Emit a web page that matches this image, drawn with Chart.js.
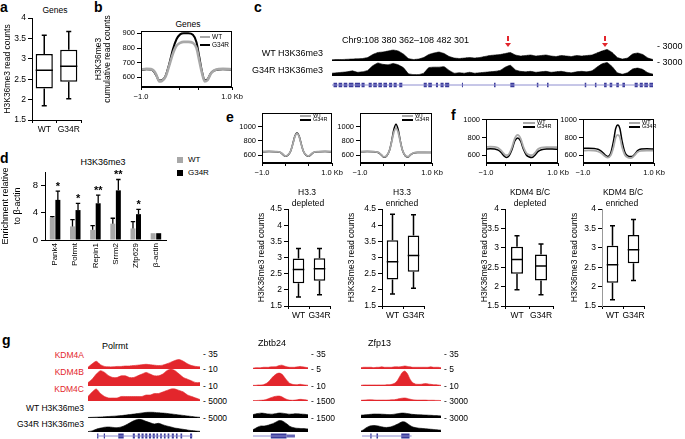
<!DOCTYPE html>
<html>
<head>
<meta charset="utf-8">
<script src="https://cdn.jsdelivr.net/npm/chart.js@4.4.1/dist/chart.umd.min.js"></script>
<style>
html, body { margin: 0; padding: 0; background: #fff; }
#fig { position: relative; width: 685px; height: 439px; overflow: hidden; font-family: 'Liberation Sans', Arial, sans-serif; }
#fig canvas { position: absolute; }
.t { position: absolute; white-space: nowrap; line-height: 1; }
.s { position: absolute; }
</style>
</head>
<body>
<div id="fig"></div>
<script>
// ---- a: five-number summaries [min, Q1, median, Q3, max]
var groups = ['WT', 'G34R'];
var aWT = [1.85, 2.27, 2.72, 3.12, 3.58];
var aG34R = [2.02, 2.44, 2.82, 3.22, 3.67];
var aTicks = [1.5, 2, 2.5, 3, 3.5, 4];

// ---- b: metagene profile (x: 0 = -1.0 kb, 100 = +1.0 kb)
var bX = [0, 6, 11, 14, 17, 20, 23, 27, 31, 35, 39, 43, 47, 52, 57, 61, 64, 67, 70, 73, 77, 82, 90, 100];
var bWT = [652, 658, 656, 645, 615, 572, 575, 605, 680, 760, 815, 835, 842, 842, 835, 800, 715, 630, 572, 580, 628, 652, 658, 655];
var bG34R = [650, 655, 653, 640, 610, 578, 580, 610, 690, 790, 860, 893, 900, 900, 890, 840, 740, 640, 578, 585, 630, 650, 655, 652];
var bTicks = [600, 700, 800, 900];
var bXTicks = [0, 42, 63, 100];
var profLabels = ['\u22121.0', '', '', '1.0 Kb'];

// ---- c: browser tracks
var cScale = [3000, 3000];
var cWT = [250,300,300,350,400,450,500,700,1300,1700,1800,2000,2200,2000,1400,500,300,400,700,1300,1600,1800,1500,900,600,500,600,700,600,700,900,1100,1200,1300,1500,1700,1200,1000,1100,1200,1000,1100,1200,1000,900,1100,1000,900,1100,1000,1100,1200,1600,2000,2300,1700,700,400,600,1400,1600,1300,600,300];
var cG34R = [600,700,800,900,1100,800,900,1200,2200,2800,2500,2400,2700,2400,1800,500,300,300,600,1800,1900,1900,2000,1200,600,700,600,800,600,700,800,900,1000,1200,1900,2300,1300,1000,900,1000,800,900,1000,800,900,1000,800,700,900,1000,900,1100,1900,2600,2900,2000,700,400,700,1500,1700,1400,700,400];
var cArrows = [34.5, 53.6];
var cGeneSpan = [0, 63];
var cExons = [[0.3,1.0],[1.3,2.0],[2.3,3.0],[3.3,4.2],[4.5,5.5],[5.8,6.4],[7.2,7.8],[8.1,8.8],[9.1,9.8],[10.1,10.8],[11.2,11.8],[12.1,12.7],[13.2,13.8],
  [18.0,18.6],[18.9,19.6],[20.4,20.8],[21.3,21.9],[22.2,23.0],[25.5,25.7],[31.8,32.1],[35.0,35.8],[40.2,40.5],[42.2,42.5],[49.6,49.9],[51.6,51.9],
  [53.4,53.9],[54.5,55.0],[55.8,56.3],[57.0,57.5],[59.4,60.0],[60.4,61.0],[61.3,62.0],[62.3,63.0]];

// ---- d: ChIP-qPCR
var dGenes = ['Pank4', 'Polrmt', 'Repin1', 'Srrm2', 'Zfp629', '\u03b2-actin'];
var dWT = [3.3, 2.0, 1.5, 2.4, 1.7, 1.0];
var dWTerr = [3.45, 3.0, 2.1, 3.2, 2.7, 1.0];
var dG34R = [5.9, 4.4, 5.4, 7.3, 3.8, 1.0];
var dG34Rerr = [7.2, 5.4, 6.6, 8.9, 4.5, 1.0];
var dStars = ['*', '*', '**', '**', '*', ''];
var dTicks = [0, 2, 4, 6, 8, 10];

// ---- e / f: profiles
var efTicks = [600, 800, 1000];
var eX = [0, 10, 20, 26, 30, 33, 37, 41, 44, 47, 50, 53, 56, 59, 63, 67, 70, 74, 80, 90, 100];
var e1WT = [655, 655, 652, 642, 615, 590, 605, 662, 755, 860, 905, 860, 755, 662, 605, 590, 615, 642, 652, 655, 655];
var e1G34R = [650, 652, 650, 640, 610, 585, 600, 660, 760, 870, 915, 870, 760, 660, 600, 585, 610, 640, 650, 652, 650];
var e2WT = [652, 654, 650, 638, 605, 578, 595, 670, 790, 920, 980, 920, 790, 670, 595, 580, 608, 632, 642, 642, 640];
var e2G34R = [650, 652, 648, 635, 600, 572, 590, 670, 800, 960, 1035, 960, 800, 670, 590, 575, 605, 630, 640, 640, 638];
var f1X = [0, 6, 12, 17, 21, 25, 28, 32, 36, 40, 44, 48, 52, 56, 60, 64, 68, 72, 77, 84, 92, 100];
var f1WT = [690, 694, 692, 680, 652, 615, 598, 612, 685, 790, 830, 790, 690, 622, 602, 598, 625, 665, 684, 690, 690, 688];
var f1G34R = [668, 670, 668, 655, 628, 590, 572, 590, 660, 760, 795, 760, 665, 600, 578, 572, 598, 638, 660, 668, 668, 666];
var f2X = [0, 8, 15, 21, 26, 31, 35, 39, 43, 46, 49, 52, 55, 59, 63, 67, 70, 73, 77, 82, 90, 100];
var f2WT = [650, 652, 650, 640, 620, 585, 570, 595, 690, 800, 830, 800, 690, 600, 572, 566, 575, 600, 635, 648, 650, 650];
var f2G34R = [675, 678, 675, 665, 642, 602, 582, 620, 760, 900, 943, 900, 760, 630, 590, 582, 585, 610, 650, 668, 670, 668];
var e1XTicks = [0, 33, 66, 100], e2XTicks = [0, 32, 62, 100], f1XTicks = [0, 27, 62, 100], f2XTicks = [0, 37, 67, 100];

// ---- e / f: box plots [min, Q1, median, Q3, max]
var eDepWT = [1.78, 2.20, 2.63, 2.97, 3.28];
var eDepG34R = [1.85, 2.28, 2.65, 2.98, 3.28];
var eEnrWT = [1.87, 2.32, 2.87, 3.53, 4.34];
var eEnrG34R = [2.05, 2.56, 3.06, 3.68, 4.32];
var fDepWT = [1.92, 2.33, 2.70, 3.03, 3.31];
var fDepG34R = [1.79, 2.16, 2.53, 2.83, 3.10];
var fEnrWT = [1.66, 2.10, 2.56, 3.05, 3.57];
var fEnrG34R = [2.16, 2.60, 2.95, 3.33, 3.73];
var eBoxTicks = [1.5, 2, 2.5, 3, 3.5, 4, 4.5];
var fBoxTicks = [1.5, 2, 2.5, 3, 3.5, 4];

// ---- g: browser tracks
var gTrackNames = ['KDM4A', 'KDM4B', 'KDM4C', 'WT H3K36me3', 'G34R H3K36me3'];
var polrmtScale = [35, 10, 10, 5000, 5000];
var zbtb24Scale = [35, 5, 10, 1500, 1500];
var zfp13Scale = [35, 5, 10, 3000, 3000];
var polrmtA = [4,12,18,10,6,5,5,6,6,7,7,8,9,10,11,10,9,8,9,12,16,20,22,18,12,8,6,5];
var polrmtB = [2,4,7,9,8,6,5,5,6,6,5,5,6,7,8,7,6,6,7,9,10,9,7,5,4,3,2,2];
var polrmtC = [3,6,8,5,3,2,2,2,3,3,3,3,3,3,4,4,5,5,6,7,8,8,7,6,4,3,2,1];
var polrmtWT = [150,200,250,300,380,450,520,600,700,850,1000,1150,1300,1500,1650,1700,1650,1550,1450,1350,1200,1050,900,750,600,450,300,200];
var polrmtG34R = [150,400,1000,1400,1700,1800,1650,1550,1800,2400,3200,4000,4500,4400,3800,3300,2850,3100,2600,2150,1800,1400,1200,950,700,500,350,250];
var zbtb24A = [2,3,3,3,4,4,4,5,5,6,8,9,7,5,4,4,4,5,6,5,4,3];
var zbtb24B = [0.2,0.2,0.3,0.3,0.4,0.7,1.3,2.2,3.0,3.6,3.8,3.5,2.6,1.6,0.8,0.5,0.4,0.4,0.5,0.4,0.3,0.2];
var zbtb24C = [0.3,0.3,0.4,0.5,0.6,1.0,1.6,2.3,2.9,3.2,3.3,2.8,1.8,1.0,0.6,0.5,0.6,0.9,1.1,1.0,0.8,0.4];
var zbtb24WT = [300,360,400,430,420,380,360,340,360,400,440,430,400,360,340,350,380,370,350,340,320,280];
var zbtb24G34R = [250,400,550,650,640,680,750,850,950,1100,1230,1200,1050,850,620,500,430,400,380,370,360,330];
var zfp13A = [3,4,4,4,4,3,4,4,5,4,4,4,4,5,5,5,6,7,6,5,4,4,4,4,4,4,4,5,4,4,4,3];
var zfp13B = [0.2,0.3,0.3,0.3,0.3,0.3,0.3,0.3,0.3,0.3,0.4,0.4,0.5,0.8,1.5,2.8,4.0,4.4,3.6,2.0,1.0,0.6,0.5,0.5,0.6,0.7,0.6,0.5,0.4,0.4,0.3,0.2];
var zfp13C = [0.5,0.6,0.7,0.8,0.8,0.7,0.6,0.6,0.6,0.6,0.6,0.7,0.8,0.9,1.2,1.6,1.9,2.0,1.7,1.2,0.9,0.7,0.6,0.6,0.6,0.6,0.5,0.5,0.5,0.4,0.4,0.3];
var zfp13WT = [500,540,580,620,660,700,700,690,680,650,620,600,620,680,750,820,870,850,780,700,640,600,580,560,540,520,500,480,450,420,400,360];
var zfp13G34R = [200,500,900,1200,1350,1400,1350,1250,1100,1000,980,1050,1200,1400,1650,1950,2200,2150,1800,1400,1100,950,850,800,750,700,650,600,550,500,450,400];
var polrmtSpan = [2.2, 25.2];
var polrmtExons = [[2.2,2.5],[3.8,4.1],[7.3,8.6],[10.8,11.3],[12.0,12.5],[12.9,13.4],[13.8,14.3],[14.7,15.2],[15.6,16.1],[16.5,16.9],[17.4,17.8],[18.3,18.7],[19.2,19.6],[20.2,20.7],[21.2,21.6],[22.3,22.7],[24.6,25.1]];
var zbtb24Span = [0, 16];
var zbtb24Exons = [[6.8, 12.8]];
var zbtb24Utr = [[12.8, 16]];
var zfp13Span = [0.4, 19.6];
var zfp13Exons = [[0.4,0.7],[3.6,4.1],[6.0,6.6],[15.6,18.8]];

var RED = '#e3262c', GRAY = '#a8a8a8';
Chart.defaults.font.family = "'Liberation Sans', Arial, sans-serif";
Chart.defaults.color = '#000';
Chart.defaults.animation = false;
Chart.defaults.responsive = false;
Chart.defaults.plugins.legend.display = false;
Chart.defaults.plugins.tooltip.enabled = false;
Chart.defaults.elements.point.radius = 0;

var fig = document.getElementById('fig');

// canvas placed so that the chart area lands on area = [left, top, right, bottom]
function mk(area, yw, xh, pad, config) {
  var left = Math.floor(area[0] - yw - pad[0]), top = Math.floor(area[1] - pad[1]);
  var w = Math.ceil(area[2] + pad[2]) - left, h = Math.ceil(area[3] + xh + pad[3]) - top;
  var c = document.createElement('canvas');
  c.width = w; c.height = h;
  c.style.left = left + 'px'; c.style.top = top + 'px';
  c.style.width = w + 'px'; c.style.height = h + 'px';
  fig.appendChild(c);
  config.options = config.options || {};
  config.options.layout = { padding: { left: area[0] - yw - left, top: area[1] - top, right: w - (area[2] - left), bottom: h - (area[3] + xh - top) } };
  return new Chart(c, config);
}
function fitY(w) { return function (s) { s.width = w; s.paddingTop = 0; s.paddingBottom = 0; }; }
function fitX(h) { return function (s) { s.height = h; s.paddingLeft = 0; s.paddingRight = 0; }; }
function fixTicks(list) { return function (s) { s.ticks = list.map(function (v) { return { value: v }; }); }; }
function plain(v) { return String(v); }

function T(s, x, y, o) {
  o = o || {};
  var d = document.createElement('div');
  d.className = 't';
  d.textContent = s;
  d.style.left = x + 'px'; d.style.top = y + 'px';
  d.style.fontSize = (o.size || 9) + 'px';
  if (o.color) d.style.color = o.color;
  if (o.bold) d.style.fontWeight = 'bold';
  var tx = o.align === 'l' ? '0' : (o.align === 'r' ? '-100%' : '-50%');
  d.style.transform = 'translate(' + tx + ',-50%)';
  fig.appendChild(d);
}
function S(x, y, w, h, color) {
  var d = document.createElement('div');
  d.className = 's';
  d.style.cssText = 'left:' + x + 'px;top:' + (y - h / 2) + 'px;width:' + w + 'px;height:' + h + 'px;background:' + color;
  fig.appendChild(d);
  return d;
}

var frame = { id: 'frame', afterDraw: function (c) {
  var a = c.chartArea, ctx = c.ctx;
  ctx.save(); ctx.strokeStyle = '#000'; ctx.lineWidth = 1;
  ctx.strokeRect(Math.round(a.left) + 0.5, Math.round(a.top) + 0.5, Math.round(a.right - a.left) - 1, Math.round(a.bottom - a.top) - 1);
  ctx.restore();
} };

function whiskerPlugin(stats) {
  return { id: 'whisk', afterDatasetsDraw: function (chart) {
    var ctx = chart.ctx, y = chart.scales.y;
    chart.getDatasetMeta(0).data.forEach(function (bar, i) {
      var s = stats[i], x = bar.x, hw = bar.width / 2;
      ctx.save(); ctx.strokeStyle = '#000'; ctx.lineWidth = 1.5; ctx.beginPath();
      var pm = y.getPixelForValue(s[2]);
      ctx.moveTo(x - hw, pm); ctx.lineTo(x + hw, pm);
      [[s[3], s[4]], [s[1], s[0]]].forEach(function (p) {
        var a = y.getPixelForValue(p[0]), b = y.getPixelForValue(p[1]);
        ctx.moveTo(x, a); ctx.lineTo(x, b);
        ctx.moveTo(x - 2.5, b); ctx.lineTo(x + 2.5, b);
      });
      ctx.stroke(); ctx.restore();
    });
  } };
}

function boxPlot(area, yw, max, yTicks, wt, g34r, frac, fs, axisColor, padTop) {
  var stats = [wt, g34r];
  return mk(area, yw, 18, [0, padTop || 7, 8, 0], {
    type: 'bar',
    data: { labels: groups, datasets: [{ data: stats.map(function (s) { return [s[1], s[3]]; }),
      backgroundColor: '#fff', borderColor: '#000', borderWidth: 1.5, borderSkipped: false, barPercentage: frac, categoryPercentage: 1 }] },
    options: { scales: {
      x: { ticks: { autoSkip: false, font: { size: fs }, padding: 2, maxRotation: 0, minRotation: 0 }, grid: { drawOnChartArea: false, tickLength: 3, color: '#000' }, border: { color: '#000' }, afterFit: fitX(18) },
      y: { min: 1.5, max: max, afterBuildTicks: fixTicks(yTicks), ticks: { font: { size: fs }, padding: 2, callback: plain },
        grid: { drawOnChartArea: false, tickLength: 4, color: '#000' }, border: { color: axisColor || '#000' },
        title: { display: true, text: 'H3K36me3 read counts', font: { size: fs, lineHeight: 1.2 }, padding: 0 }, afterFit: fitY(yw) }
    } },
    plugins: [whiskerPlugin(stats)]
  });
}

function profile(area, yw, min, max, yTicks, xs, wt, g34r, xTicks, fs, wtW, gW, yTitle, padTop) {
  var y = { min: min, max: max, afterBuildTicks: fixTicks(yTicks), ticks: { font: { size: fs }, padding: 2, callback: plain },
    grid: { drawOnChartArea: false, tickLength: 4, color: '#000' }, border: { color: '#000' }, afterFit: fitY(yw) };
  if (yTitle) y.title = { display: true, text: yTitle, font: { size: 8.5, lineHeight: 1.1 }, padding: 0 };
  return mk(area, yw, 16, [0, padTop || 6, 16, 2], {
    type: 'line',
    data: { datasets: [
      { data: xs.map(function (x, i) { return { x: x, y: wt[i] }; }), borderColor: GRAY, borderWidth: wtW, cubicInterpolationMode: 'monotone' },
      { data: xs.map(function (x, i) { return { x: x, y: g34r[i] }; }), borderColor: '#000', borderWidth: gW, cubicInterpolationMode: 'monotone' }
    ] },
    options: { scales: {
      x: { type: 'linear', min: 0, max: 100, afterBuildTicks: fixTicks(xTicks),
        ticks: { autoSkip: false, maxRotation: 0, font: { size: fs }, padding: 2, callback: function (v, i) { return profLabels[i]; } },
        grid: { drawOnChartArea: false, tickLength: 3, color: '#000' }, border: { color: '#000' }, afterFit: fitX(16) },
      y: y
    } },
    plugins: [frame]
  });
}

function track(area, vals, maxV, color, tension) {
  return mk(area, 0, 0, [0, 0, 0, 0], {
    type: 'line',
    data: { labels: vals.map(function (v, i) { return i; }), datasets: [{ data: vals, fill: 'origin', backgroundColor: color, borderColor: color, borderWidth: 0.6, tension: tension }] },
    options: { scales: { x: { display: false }, y: { display: false, min: 0, max: maxV } } }
  });
}

function gene(area, span, exons, utr, n, exW) {
  var ds = [{ data: [{ x: span[0], y: 0 }, { x: span[1], y: 0 }], borderColor: '#8e8ed0', borderWidth: 1 }];
  [[exons, exW], [utr, exW * 0.55]].forEach(function (p) {
    var pts = [];
    p[0].forEach(function (e) { pts.push({ x: e[0], y: 0 }, { x: e[1], y: 0 }, { x: e[1], y: null }); });
    ds.push({ data: pts, borderColor: '#3a3a9a', borderWidth: p[1], spanGaps: false, borderCapStyle: 'butt' });
  });
  return mk(area, 0, 0, [0, 0, 0, 0], { type: 'line', data: { datasets: ds },
    options: { scales: { x: { type: 'linear', display: false, min: 0, max: n }, y: { display: false, min: -1, max: 1 } } } });
}

function arrow(x, y) {
  S(x - 1, y - 2, 2, 5, RED);
  var tri = S(x - 3, y + 2.5, 0, 0, 'transparent');
  tri.style.borderLeft = '3px solid transparent';
  tri.style.borderRight = '3px solid transparent';
  tri.style.borderTop = '4px solid ' + RED;
}

// ===== panel letters
T('a', 0, 7, { align: 'l', size: 14, bold: true });
T('b', 94, 7, { align: 'l', size: 14, bold: true });
T('c', 254, 7, { align: 'l', size: 14, bold: true });
T('d', 0, 158, { align: 'l', size: 14, bold: true });
T('e', 226, 117, { align: 'l', size: 14, bold: true });
T('f', 451, 115, { align: 'l', size: 14, bold: true });
T('g', 2, 340, { align: 'l', size: 14, bold: true });

// ===== a
T('Genes', 55, 10, { size: 8.5 });
boxPlot([32, 18, 81, 120], 29, 4, aTicks, aWT, aG34R, 0.7, 8.5, '#000', 8);

// ===== b
T('Genes', 188, 24, { size: 8.5 });
profile([141, 31, 232, 87], 47, 534, 916, bTicks, bX, bWT, bG34R, bXTicks, 7.5, 2.6, 2, ['H3K36me3', 'cumulative read counts'], 30);
S(200, 37, 10, 2.5, GRAY); T('WT', 212, 37, { align: 'l', size: 6.5 });
S(200, 45, 10, 2, '#000'); T('G34R', 212, 45, { align: 'l', size: 6.5 });

// ===== c
T('Chr9:108 380 362\u2013108 482 301', 342, 39.5, { align: 'l', size: 9 });
cArrows.forEach(function (i) { arrow(332 + i * 321 / (cWT.length - 1), 40); });
T('WT H3K36me3', 323, 52.5, { align: 'r', size: 9 });
T('G34R H3K36me3', 323, 70, { align: 'r', size: 9 });
T('- ' + cScale[0], 657, 46, { align: 'l', size: 9 });
T('- ' + cScale[1], 657, 62, { align: 'l', size: 9 });
track([332, 46, 653, 61], cWT, cScale[0], '#000', 0.1);
track([332, 62, 653, 76], cG34R, cScale[1], '#000', 0.1);
gene([332, 82, 653, 88], cGeneSpan, cExons, [], cWT.length - 1, 4.5);

// ===== d
T('H3K36me3', 103, 162, { size: 9 });
S(177, 160, 6, 6, GRAY); T('WT', 188, 160, { align: 'l', size: 8 });
S(177, 173, 6, 6, '#000'); T('G34R', 188, 173, { align: 'l', size: 8 });
var dPlugin = { id: 'dErr', afterDatasetsDraw: function (chart) {
  var ctx = chart.ctx, y = chart.scales.y;
  ctx.save(); ctx.strokeStyle = '#000'; ctx.lineWidth = 1.3;
  [dWTerr, dG34Rerr].forEach(function (err, di) {
    var vals = chart.data.datasets[di].data;
    chart.getDatasetMeta(di).data.forEach(function (bar, i) {
      if (err[i] <= vals[i]) return;
      var top = y.getPixelForValue(err[i]);
      ctx.beginPath(); ctx.moveTo(bar.x, bar.y); ctx.lineTo(bar.x, top);
      ctx.moveTo(bar.x - 2.2, top); ctx.lineTo(bar.x + 2.2, top); ctx.stroke();
    });
  });
  ctx.fillStyle = '#000'; ctx.textAlign = 'center'; ctx.textBaseline = 'alphabetic';
  ctx.font = "bold 11px 'Liberation Sans', Arial, sans-serif";
  chart.getDatasetMeta(1).data.forEach(function (bar, i) {
    if (dStars[i]) ctx.fillText(dStars[i], bar.x, y.getPixelForValue(dG34Rerr[i]) - 1);
  });
  ctx.restore();
} };
mk([45, 172, 166, 240], 45, 30, [0, 7, 4, 0], {
  type: 'bar',
  data: { labels: dGenes, datasets: [
    { label: 'WT', data: dWT, backgroundColor: GRAY, categoryPercentage: 0.55, barPercentage: 0.9 },
    { label: 'G34R', data: dG34R, backgroundColor: '#000', categoryPercentage: 0.55, barPercentage: 0.9 }
  ] },
  options: { scales: {
    x: { ticks: { autoSkip: false, minRotation: 90, maxRotation: 90, font: { size: 8 }, padding: 3 },
      grid: { drawOnChartArea: false, drawTicks: false, color: '#000' }, border: { color: '#000' }, afterFit: fitX(30) },
    y: { min: 0, max: 10, afterBuildTicks: fixTicks(dTicks), ticks: { font: { size: 9.5 }, padding: 3 },
      grid: { drawOnChartArea: false, tickLength: 4, color: '#000' }, border: { color: '#000' },
      title: { display: true, text: ['Enrichment relative', 'to \u03b2-actin'], font: { size: 9, lineHeight: 1.3 }, padding: 0 }, afterFit: fitY(45) }
  } },
  plugins: [dPlugin]
});

// ===== e (profiles)
profile([262, 113, 332, 163], 28, 492, 1191, efTicks, eX, e1WT, e1G34R, e1XTicks, 7.5, 1.8, 1.5);
profile([360, 113, 432, 163], 26, 492, 1191, efTicks, eX, e2WT, e2G34R, e2XTicks, 7.5, 1.8, 1.5);
S(300, 116, 11, 2, GRAY); T('WT', 313, 116, { align: 'l', size: 5.5 });
S(300, 120, 11, 2, '#000'); T('G34R', 313, 120, { align: 'l', size: 5.5 });
S(402, 116, 11, 2, GRAY); T('WT', 415, 116, { align: 'l', size: 5.5 });
S(402, 120, 11, 2, '#000'); T('G34R', 415, 120, { align: 'l', size: 5.5 });

// ===== f (profiles)
profile([486, 119, 558, 163], 28, 509, 1010, efTicks, f1X, f1WT, f1G34R, f1XTicks, 7.5, 1.8, 1.5);
profile([583, 119, 654, 163], 25, 509, 1010, efTicks, f2X, f2WT, f2G34R, f2XTicks, 7.5, 1.8, 1.5);
S(523, 122.7, 12, 2, GRAY); T('WT', 537, 122.7, { align: 'l', size: 5.5 });
S(523, 126.7, 12, 2, '#000'); T('G34R', 537, 126.7, { align: 'l', size: 5.5 });
S(629, 122.7, 11, 2, GRAY); T('WT', 642, 122.7, { align: 'l', size: 5.5 });
S(629, 126.7, 11, 2, '#000'); T('G34R', 642, 126.7, { align: 'l', size: 5.5 });

// ===== e / f box plots
T('H3.3', 307, 192, { size: 8.5 }); T('depleted', 308, 202.5, { size: 8.5 });
T('H3.3', 402, 192, { size: 8.5 }); T('enriched', 402, 202.5, { size: 8.5 });
T('KDM4 B/C', 530, 192, { size: 8.5 }); T('depleted', 530, 202.5, { size: 8.5 });
T('KDM4 B/C', 623, 192, { size: 8.5 }); T('enriched', 622, 202.5, { size: 8.5 });
boxPlot([288, 209, 330, 306], 31, 4.5, eBoxTicks, eDepWT, eDepG34R, 0.55, 8.5);
boxPlot([382, 209, 424, 306], 35, 4.5, eBoxTicks, eEnrWT, eEnrG34R, 0.55, 8.5);
boxPlot([505, 209, 553, 306], 25, 4, fBoxTicks, fDepWT, fDepG34R, 0.5, 8.5);
boxPlot([602, 209, 644, 306], 32, 4, fBoxTicks, fEnrWT, fEnrG34R, 0.55, 8.5, '#999');

// ===== g
var rowTop = [354, 369, 386, 401, 418], rowBot = [369, 386, 401, 418, 432];
var labelY = [355, 372, 389, 408, 424];
gTrackNames.forEach(function (n, i) { T(n, 84, labelY[i], { align: 'r', size: 8.5, color: i < 3 ? RED : '#000' }); });
T('Polrmt', 102, 346, { align: 'l', size: 9 });
T('Zbtb24', 258, 343, { align: 'l', size: 9 });
T('Zfp13', 368, 343, { align: 'l', size: 9 });
var gCols = [
  { x0: 88, x1: 200, scale: polrmtScale, data: [polrmtA, polrmtB, polrmtC, polrmtWT, polrmtG34R], span: polrmtSpan, exons: polrmtExons, utr: [] },
  { x0: 253, x1: 308, scale: zbtb24Scale, data: [zbtb24A, zbtb24B, zbtb24C, zbtb24WT, zbtb24G34R], span: zbtb24Span, exons: zbtb24Exons, utr: zbtb24Utr },
  { x0: 361, x1: 441, scale: zfp13Scale, data: [zfp13A, zfp13B, zfp13C, zfp13WT, zfp13G34R], span: zfp13Span, exons: zfp13Exons, utr: [] }
];
gCols.forEach(function (col) {
  col.data.forEach(function (vals, r) {
    track([col.x0, rowTop[r], col.x1, rowBot[r]], vals, col.scale[r], r < 3 ? RED : '#000', 0.25);
    T('- ' + col.scale[r], col.x1 + 3, rowTop[r], { align: 'l', size: 8.5 });
  });
  gene([col.x0, 433, col.x1, 439], col.span, col.exons, col.utr, col.data[0].length - 1, 5);
});
</script>
</body>
</html>
